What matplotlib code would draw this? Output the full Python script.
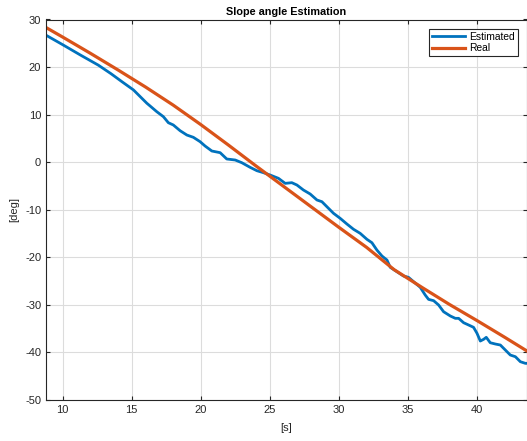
import matplotlib
matplotlib.use('Agg')
import matplotlib.pyplot as plt

plt.rcParams['font.family'] = ['Liberation Sans', 'DejaVu Sans']
plt.rcParams['axes.unicode_minus'] = False

# Datos
t_real = [8.8, 10, 12, 14, 16, 18, 20, 22, 24, 26, 28, 30, 32, 34, 36, 38, 40, 42, 43.62]
real = [28.3, 26.3, 22.9, 19.4, 15.8, 12.0, 7.9, 3.6, -0.8, -5.1, -9.4, -13.7, -17.9,
        -22.6, -26.3, -29.9, -33.3, -36.8, -39.7]

t_est = [8.79, 10.0, 11.3, 12.58, 13.5, 14.3, 15.12, 16.09, 16.33, 16.81, 17.29, 17.65,
         18.01, 18.50, 18.99, 19.46, 19.95, 20.31, 20.80, 21.40, 21.88, 22.49, 22.97,
         23.57, 24.06, 24.54, 25.02, 25.62, 26.11, 26.59, 26.96, 27.43, 27.92, 28.41,
         28.77, 29.13, 29.61, 30.09, 30.58, 31.06, 31.54, 32.03, 32.39, 32.75, 33.12,
         33.48, 33.72, 34.20, 34.68, 35.04, 35.41, 35.89, 36.25, 36.49, 36.86, 37.22,
         37.58, 38.07, 38.43, 38.67, 39.03, 39.39, 39.75, 40.0, 40.24, 40.48, 40.67,
         40.96, 41.33, 41.69, 42.05, 42.41, 42.78, 43.14, 43.50, 43.62]
est = [26.7, 24.7, 22.5, 20.4, 18.6, 16.9, 15.2, 12.4, 11.81, 10.62, 9.57, 8.30,
       7.82, 6.62, 5.71, 5.23, 4.31, 3.40, 2.35, 2.00, 0.67, 0.46, -0.11,
       -1.08, -1.79, -2.21, -2.70, -3.39, -4.45, -4.31, -4.80, -5.85, -6.69, -7.95,
       -8.31, -9.36, -10.75, -11.80, -13.0, -14.11, -14.96, -16.22, -16.93, -18.47, -19.73,
       -20.57, -22.11, -23.02, -23.93, -24.21, -25.13, -26.31, -27.93, -28.84, -29.12, -30.03,
       -31.44, -32.34, -32.83, -32.83, -33.75, -34.23, -34.72, -35.98, -37.60, -37.24, -36.82,
       -37.96, -38.23, -38.44, -39.49, -40.54, -40.90, -41.95, -42.29, -42.29]

x_ticks = [10, 15, 20, 25, 30, 35, 40]
y_ticks = [-50, -40, -30, -20, -10, 0, 10, 20, 30]

fig = plt.figure(figsize=(5.27, 4.41), dpi=100)
ax = fig.add_axes([46 / 527, 41 / 441, 481 / 527, 380.5 / 441])

ax.plot(t_est, est, color='#0072BD', lw=2.0, label='Estimated')
ax.plot(t_real, real, color='#D95319', lw=2.3, label='Real')

ax.set_xlim(8.79, 43.62)
ax.set_ylim(-50, 30)
ax.set_xticks(x_ticks)
ax.set_yticks(y_ticks)
ax.grid(True, color='#dcdcdc', lw=0.8)
ax.set_axisbelow(True)

for s in ax.spines.values():
    s.set_color('#262626')
    s.set_linewidth(0.8)
ax.tick_params(direction='in', length=3, width=0.8, top=True, right=True,
               colors='#262626', labelsize=8)

ax.set_title('Slope angle Estimation', fontsize=7.8, fontweight='bold', pad=3)
ax.set_xlabel('[s]', fontsize=8, color='#262626', labelpad=6)
ax.set_ylabel('[deg]', fontsize=8, color='#262626', labelpad=4)

leg = ax.legend(loc='upper right', fontsize=7.4, handlelength=3.2, fancybox=False,
                framealpha=1, borderpad=0.3, labelspacing=0.15, handletextpad=0.4,
                borderaxespad=0.9)
leg.get_frame().set_edgecolor('#262626')
leg.get_frame().set_linewidth(0.8)

fig.savefig('out.png', dpi=100)
